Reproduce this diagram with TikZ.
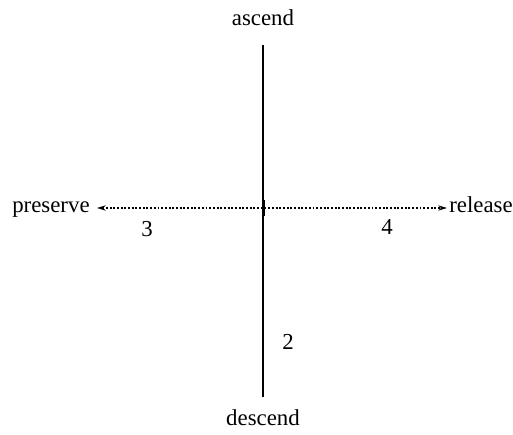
\documentclass[tikz,border=0pt]{standalone}
\usepackage{fontspec}
\setmainfont{Liberation Serif}
\usetikzlibrary{positioning,arrows.meta}

\begin{document}
\begin{tikzpicture}[
    x=0.02cm, y=-0.02cm,
    label/.style={font=\fontsize{13}{15}\selectfont, inner sep=0pt},
    axis/.style={line width=0.8pt},
    haxis/.style={densely dotted, line width=1.1pt, {Stealth[length=5pt,width=3pt]}-{Stealth[length=5pt,width=3pt]}}
]
\useasboundingbox (0,0) rectangle (513,435);

% Pole labels
\node[label] (ascend) at (263,18) {ascend};
\node[label] (descend) at (263,418) {descend};
\node[label, anchor=base east] (preserve) at (90,213) {preserve};
\node[label, anchor=base west] (release) at (449,213) {release};

% Quadrant numbers
\node[label] (three) at (147,229) {3};
\node[label] (four) at (387,227) {4};
\node[label] (two) at (288,342) {2};

% Axis ends
\coordinate (top) at (263,45);
\coordinate (bottom) at (263,397);
\coordinate (left) at (97,208);
\coordinate (right) at (447,208);
\coordinate (tickup) at (264,200);
\coordinate (tickdown) at (264,216);

% Axes
\draw[axis] (top) -- (bottom);
\draw[haxis] (left) -- (right);
\draw[line width=1.4pt] (tickup) -- (tickdown);

\end{tikzpicture}
\end{document}
